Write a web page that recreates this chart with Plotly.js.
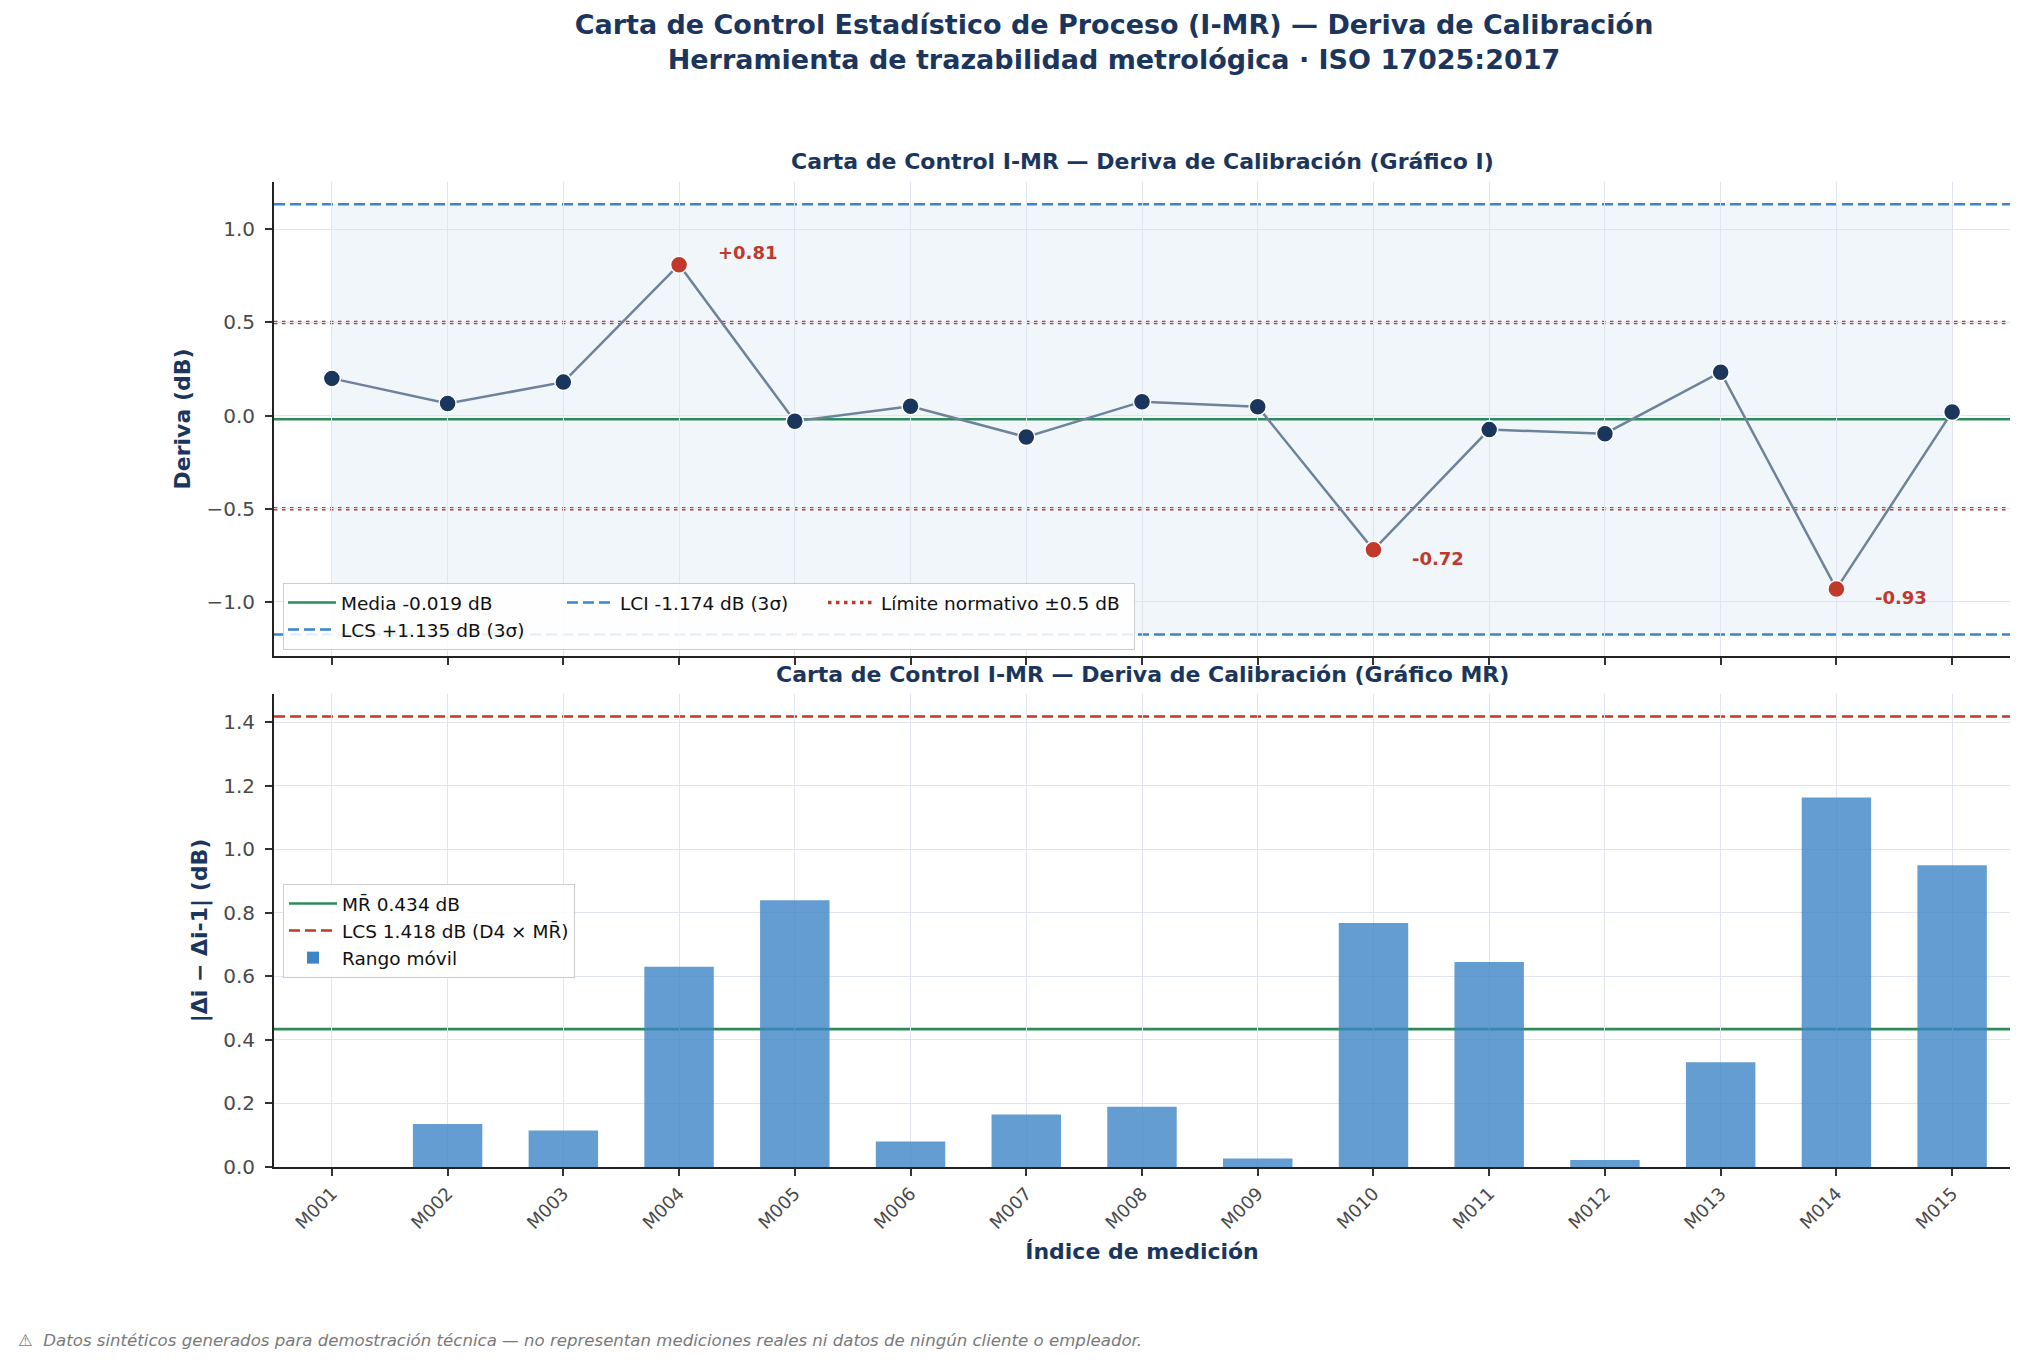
<!DOCTYPE html>
<html><head><meta charset="utf-8">
<script src="https://cdn.plot.ly/plotly-3.0.1.min.js"></script>
<style>html,body{margin:0;padding:0;background:#fff}#chart{width:2025px;height:1367px}</style>
</head><body><div id="chart"></div>
<script>
// ---- data ----
const categories = ['M001','M002','M003','M004','M005','M006','M007','M008','M009','M010','M011','M012','M013','M014','M015'];
const drift = [0.20, 0.065, 0.18, 0.81, -0.03, 0.05, -0.115, 0.075, 0.048, -0.72, -0.075, -0.097, 0.233, -0.93, 0.02];
const movingRange = [null, 0.135, 0.115, 0.63, 0.84, 0.08, 0.165, 0.19, 0.027, 0.768, 0.645, 0.022, 0.33, 1.163, 0.95];
const meanValue = -0.019;
const uclValue = 1.135;
const lclValue = -1.174;
const specLimit = 0.5;
const mrBarValue = 0.434;
const mrUclValue = 1.418;

// ---- styling ----
const F = 'DejaVu Sans';
const NAVY = '#1b365d', RED = '#c0392b', GREEN = '#2e8b57', BLUE = '#3a86c8', SLATE = '#6e8299';
const W = 2025, H = 1367, ML = 274, MR = 15, MT = 182, MB = 200;
const PW = W - ML - MR, PH = H - MT - MB;
const px = x => (x - ML) / PW;
const py = y => (H - MB - y) / PH;
const DOT = '3.5px,4.5px', DASH = '11px,5px';

const fmt = v => (v > 0 ? '+' : '') + v.toFixed(2);

const traces = [];
// legend-only entries (top)
traces.push({x:[null], y:[null], xaxis:'x', yaxis:'y', mode:'lines', name:'Media ' + meanValue.toFixed(3) + ' dB',
  line:{color:GREEN, width:2.6}, legend:'legend', legendgroup:'g1', legendwidth:216, hoverinfo:'skip'});
traces.push({x:[null], y:[null], xaxis:'x', yaxis:'y', mode:'lines', name:'LCS +' + uclValue.toFixed(3) + ' dB (3σ)',
  line:{color:BLUE, width:2.5, dash:DASH}, legend:'legend', legendgroup:'g1', legendwidth:216, hoverinfo:'skip'});
traces.push({x:[null], y:[null], xaxis:'x', yaxis:'y', mode:'lines', name:'LCI ' + lclValue.toFixed(3) + ' dB (3σ)',
  line:{color:BLUE, width:2.5, dash:DASH}, legend:'legend', legendgroup:'g2', legendwidth:198, hoverinfo:'skip'});
traces.push({x:[null], y:[null], xaxis:'x', yaxis:'y', mode:'lines', name:'Límite normativo ±' + specLimit + ' dB',
  line:{color:RED, width:3.5, dash:DOT}, legend:'legend', legendgroup:'g3', legendwidth:248, hoverinfo:'skip'});
// data line
traces.push({x:categories, y:drift, xaxis:'x', yaxis:'y', mode:'lines+markers', showlegend:false,
  line:{color:SLATE, width:2.5},
  marker:{size:17, color:drift.map(v => Math.abs(v) > specLimit ? RED : NAVY), line:{color:'#ffffff', width:1.5}}});
// legend-only entries (bottom)
traces.push({x:[null], y:[null], xaxis:'x2', yaxis:'y2', mode:'lines', name:'MR\u0304 ' + mrBarValue.toFixed(3) + ' dB',
  line:{color:GREEN, width:2.6}, legend:'legend2', hoverinfo:'skip'});
traces.push({x:[null], y:[null], xaxis:'x2', yaxis:'y2', mode:'lines', name:'LCS ' + mrUclValue.toFixed(3) + ' dB (D4 × MR\u0304)',
  line:{color:RED, width:2.5, dash:DASH}, legend:'legend2', hoverinfo:'skip'});
traces.push({type:'bar', x:categories, y:movingRange, xaxis:'x2', yaxis:'y2', name:'Rango móvil', width:0.6,
  marker:{color:'#3d85c6', opacity:0.8, line:{width:0}}, legend:'legend2'});

const hline = (yref, y, color, width, dash) => ({type:'line', xref: (yref === 'y' ? 'x' : 'x2') + ' domain', x0:0, x1:1,
  yref:yref, y0:y, y1:y, line:{color:color, width:width, dash:dash}, layer:'below'});

const shapes = [
  {type:'rect', xref:'x', yref:'y', x0:categories[0], x1:categories[categories.length-1], y0:lclValue, y1:uclValue,
   fillcolor:'rgba(58,134,200,0.07)', line:{width:0}, layer:'below'},
  hline('y', uclValue, BLUE, 2.5, DASH),
  hline('y', lclValue, BLUE, 2.5, DASH),
  hline('y', specLimit, RED, 3.5, DOT),
  hline('y', -specLimit, RED, 3.5, DOT),
  hline('y', meanValue, GREEN, 2.6, 'solid'),
  hline('y2', mrBarValue, GREEN, 2.6, 'solid'),
  hline('y2', mrUclValue, RED, 2.5, DASH)
];

const annotations = [
  {xref:'paper', yref:'paper', x:0.5, y:py(162), xanchor:'center', yanchor:'middle', showarrow:false,
   text:'Carta de Control I-MR — Deriva de Calibración (Gráfico I)', font:{family:F, size:22, weight:700, color:NAVY}},
  {xref:'paper', yref:'paper', x:0.5, y:py(674), xanchor:'center', yanchor:'middle', showarrow:false,
   text:'Carta de Control I-MR — Deriva de Calibración (Gráfico MR)', font:{family:F, size:22, weight:700, color:NAVY}},
  {xref:'paper', yref:'paper', x:px(16), y:py(1340), xanchor:'left', yanchor:'middle', showarrow:false,
   text:'⚠  Datos sintéticos generados para demostración técnica — no representan mediciones reales ni datos de ningún cliente o empleador.',
   font:{family:F, size:16.6, style:'italic', color:'#7a7a7a'}}
];
drift.forEach((v, i) => {
  if (Math.abs(v) > specLimit) {
    annotations.push({xref:'x', yref:'y', x:categories[i], y:v, xanchor:'left', yanchor:'middle', showarrow:false,
      xshift:37, yshift: v > 0 ? 12 : -9, text:fmt(v), font:{family:F, size:18, weight:700, color:RED}});
  }
});

const axisBase = {showline:true, linecolor:'#222', linewidth:1.8, mirror:false, ticks:'outside', ticklen:7, tickwidth:1.5,
  tickcolor:'#333', showgrid:true, gridcolor:'#e1e5ed', gridwidth:1, zeroline:false,
  tickfont:{family:F, size:20, color:'#4a4a4a'}};

const legendBase = {bgcolor:'rgba(255,255,255,0.88)', bordercolor:'#cccccc', borderwidth:1, itemwidth:48,
  font:{family:F, size:18.5, color:'#111'}, xanchor:'left', yanchor:'top'};

const layout = {
  width:W, height:H, paper_bgcolor:'#ffffff', plot_bgcolor:'rgba(0,0,0,0)',
  margin:{l:ML, r:MR, t:MT, b:MB, autoexpand:false},
  font:{family:F},
  title:{text:'Carta de Control Estadístico de Proceso (I-MR) — Deriva de Calibración<br>Herramienta de trazabilidad metrológica · ISO 17025:2017',
    font:{family:F, size:27, weight:700, color:NAVY}, xref:'container', x:1114/W, xanchor:'center',
    yref:'container', y:1 - 34/H, yanchor:'top'},
  xaxis:Object.assign({}, axisBase, {type:'category', anchor:'y', domain:[0,1], range:[-0.5, categories.length-0.5], showticklabels:false}),
  xaxis2:Object.assign({}, axisBase, {type:'category', anchor:'y2', domain:[0,1], range:[-0.5, categories.length-0.5],
    tickangle:-45, tickfont:{family:F, size:18, color:'#4a4a4a'},
    title:{text:'Índice de medición', font:{family:F, size:22, weight:700, color:NAVY}, standoff:12}}),
  yaxis:Object.assign({}, axisBase, {anchor:'x', domain:[py(656), 1], range:[-1.29, 1.254], tick0:0, dtick:0.5, tickformat:'.1f',
    ticklabelstandoff:6,
    title:{text:'Deriva (dB)', font:{family:F, size:22, weight:700, color:NAVY}, standoff:10}}),
  yaxis2:Object.assign({}, axisBase, {anchor:'x2', domain:[0, py(694)], range:[0, 1.489], tick0:0, dtick:0.2, tickformat:'.1f',
    ticklabelstandoff:6,
    title:{text:'|Δi − Δi-1| (dB)', font:{family:F, size:22, weight:700, color:NAVY}, standoff:10}}),
  legend:Object.assign({}, legendBase, {orientation:'h', traceorder:'grouped', tracegroupgap:0, x:px(283), y:py(583)}),
  legend2:Object.assign({}, legendBase, {orientation:'v', traceorder:'normal', x:px(283), y:py(884)}),
  shapes:shapes,
  annotations:annotations,
  showlegend:true
};

Plotly.newPlot('chart', traces, layout, {displayModeBar:false, responsive:false});
</script>
</body></html>
